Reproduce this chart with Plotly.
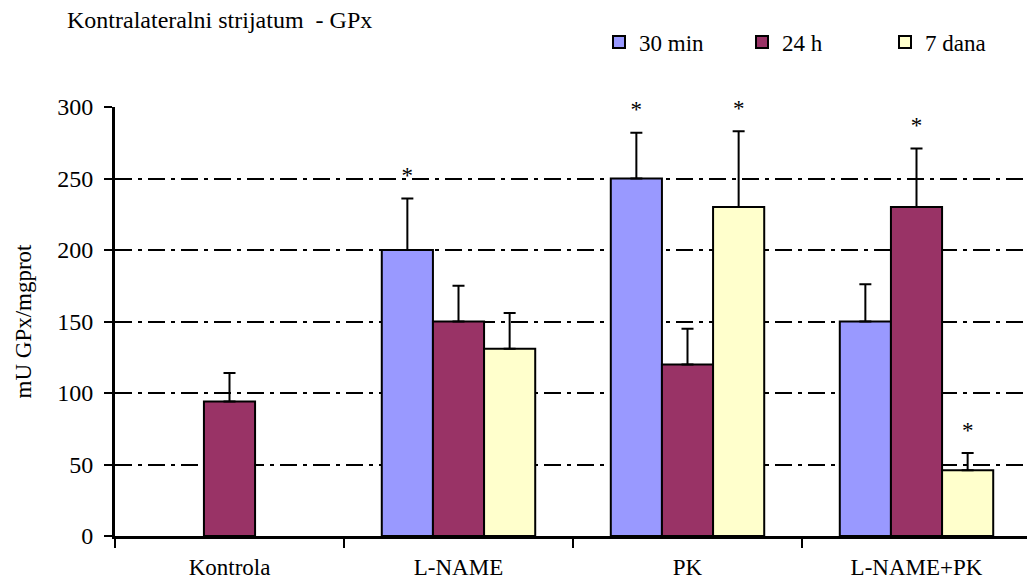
import plotly.graph_objects as go

categories = ["Kontrola", "L-NAME", "PK", "L-NAME+PK"]
series_names = ["30 min", "24 h", "7 dana"]
values_30min = [None, 200, 250, 150]
values_24h = [94, 150, 120, 230]
values_7dana = [None, 131, 230, 46]
err_30min = [None, 36, 32, 26]
err_24h = [20, 25, 25, 41]
err_7dana = [None, 25, 53, 12]
sig_30min = [False, True, True, False]
sig_24h = [False, False, False, True]
sig_7dana = [False, False, True, True]
y_ticks = [0, 50, 100, 150, 200, 250, 300]

colors = ["#9999FF", "#993366", "#FFFFCC"]
FONT = "Liberation Serif, Times New Roman, serif"
BARGAP = 0.33
W, H = 1027, 575  # page body has an 8px margin

series_vals = [values_30min, values_24h, values_7dana]
series_errs = [err_30min, err_24h, err_7dana]
series_sig = [sig_30min, sig_24h, sig_7dana]

xpos = list(range(len(categories)))
bar_w = (1 - BARGAP) / len(series_names)

fig = go.Figure()
for j, name in enumerate(series_names):
    fig.add_trace(go.Bar(
        x=xpos, y=series_vals[j], name=name,
        marker=dict(color=colors[j], line=dict(color="black", width=2)),
        error_y=dict(type="data", array=series_errs[j],
                     arrayminus=[0 if e is not None else None for e in series_errs[j]],
                     symmetric=False, color="black", thickness=2, width=6),
    ))

# significance asterisks
ax, ay = [], []
for j in range(len(series_names)):
    off = (j - (len(series_names) - 1) / 2) * bar_w
    for i in xpos:
        if series_sig[j][i]:
            ax.append(i + off)
            ay.append(series_vals[j][i] + series_errs[j][i])
fig.add_trace(go.Scatter(
    x=ax, y=ay, mode="text+markers", text=["*"] * len(ax),
    textposition="top center", showlegend=False, hoverinfo="skip",
    marker=dict(size=14, opacity=0), cliponaxis=False,
    textfont=dict(family=FONT, size=23, color="black"),
))

fig.update_layout(
    template="none",
    barmode="group", bargap=BARGAP, bargroupgap=0,
    width=W, height=H,
    margin=dict(l=107, r=4, t=99, b=47),
    paper_bgcolor="white", plot_bgcolor="white",
    font=dict(family=FONT, color="black", size=22),
    title=dict(text="Kontralateralni strijatum  - GPx", x=59 / W, xanchor="left",
               xref="container", y=1 - 12 / H, yanchor="middle", yref="container",
               font=dict(family=FONT, size=24, color="black")),
    legend=dict(orientation="h", xref="container", yref="container",
                x=591 / W, xanchor="left", y=1 - 34 / H, yanchor="middle",
                font=dict(family=FONT, size=23, color="black"),
                entrywidth=98, bgcolor="rgba(0,0,0,0)"),
    showlegend=True,
)
fig.update_xaxes(
    range=[-0.5, len(categories) - 0.5],
    tickmode="array", tickvals=xpos, ticktext=categories,
    ticks="", ticklabelstandoff=8,
    showline=True, linecolor="black", linewidth=3,
    showgrid=False, zeroline=False,
    tickfont=dict(family=FONT, size=23, color="black"),
    minor=dict(tickmode="array", tickvals=[i - 0.5 for i in range(len(categories) + 1)],
               ticks="outside", ticklen=9, tickwidth=2, tickcolor="black", showgrid=False),
)
fig.update_yaxes(
    range=[0, 300], tickmode="array", tickvals=y_ticks,
    ticks="outside", ticklen=8, tickwidth=2, tickcolor="black",
    showline=True, linecolor="black", linewidth=3,
    showgrid=True, gridcolor="black", gridwidth=2, griddash="17px,6px,4px,6px",
    zeroline=False, ticklabelstandoff=6,
    tickfont=dict(family=FONT, size=24, color="black"),
    title=dict(text="mU GPx/mgprot", font=dict(family=FONT, size=23, color="black"), standoff=20),
)

fig.write_html("out.html")
